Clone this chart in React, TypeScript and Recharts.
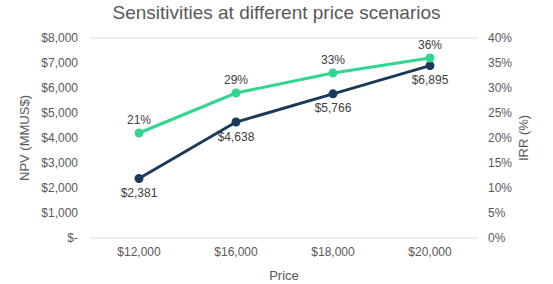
import { CartesianGrid, LabelList, Line, LineChart, XAxis, YAxis } from "recharts";

const prices = ["$12,000", "$16,000", "$18,000", "$20,000"];
const npv = [2381, 4638, 5766, 6895];
const irr = [21, 29, 33, 36];
const npvTicks = [0, 1000, 2000, 3000, 4000, 5000, 6000, 7000, 8000];
const irrTicks = [0, 5, 10, 15, 20, 25, 30, 35, 40];

const NAVY = "#1b3a5a";
const GREEN = "#33d68f";
const TEXT = "#595959";
const FONT = "'Liberation Sans', Arial, sans-serif";

const data = prices.map((p, i) => ({ price: p, npv: npv[i], irr: irr[i] }));

const money = (v: number) => (v === 0 ? "$-" : "$" + v.toLocaleString("en-US"));

export default function App() {
  return (
    <div style={{ position: "fixed", left: 0, top: 0, width: 553, height: 284, background: "#fff", fontFamily: FONT }}>
      <div
        style={{
          position: "absolute",
          top: 2,
          left: 0,
          width: 553,
          textAlign: "center",
          fontSize: 19,
          color: TEXT,
        }}
      >
        Sensitivities at different price scenarios
      </div>
      <LineChart
        width={553}
        height={284}
        data={data}
        margin={{ top: 38, right: 0, bottom: 16, left: 0 }}
        style={{ fontFamily: FONT }}
      >
        <CartesianGrid vertical={false} stroke="#d9d9d9" />
        <XAxis
          dataKey="price"
          axisLine={false}
          tickLine={false}
          tickSize={0}
          tickMargin={9}
          height={30}
          padding={{ left: 49, right: 48 }}
          tick={{ fill: TEXT, fontSize: 12 }}
          label={{ value: "Price", position: "insideBottom", offset: -12, fill: TEXT, fontSize: 13 }}
        />
        <YAxis
          yAxisId="l"
          width={90}
          domain={[0, 8000]}
          ticks={npvTicks}
          tickFormatter={money}
          axisLine={false}
          tickLine={false}
          tickSize={0}
          tickMargin={12}
          tick={{ fill: TEXT, fontSize: 12 }}
          label={{ value: "NPV (MMUS$)", angle: -90, position: "insideLeft", offset: 24, fill: TEXT, fontSize: 13, style: { textAnchor: "middle" } }}
        />
        <YAxis
          yAxisId="r"
          orientation="right"
          width={75}
          domain={[0, 40]}
          ticks={irrTicks}
          tickFormatter={(v: number) => v + "%"}
          axisLine={false}
          tickLine={false}
          tickSize={0}
          tickMargin={10}
          tick={{ fill: TEXT, fontSize: 12 }}
          label={{ value: "IRR (%)", angle: -90, position: "insideRight", offset: 30, fill: TEXT, fontSize: 13, style: { textAnchor: "middle" } }}
        />
        <Line
          yAxisId="l"
          dataKey="npv"
          stroke={NAVY}
          strokeWidth={3}
          dot={{ r: 3, fill: NAVY, stroke: NAVY }}
          isAnimationActive={false}
        >
          <LabelList dataKey="npv" position="bottom" offset={10} formatter={(v: any) => money(Number(v))} fill="#404040" fontSize={12} />
        </Line>
        <Line
          yAxisId="r"
          dataKey="irr"
          stroke={GREEN}
          strokeWidth={3}
          dot={{ r: 3, fill: GREEN, stroke: GREEN }}
          isAnimationActive={false}
        >
          <LabelList dataKey="irr" position="top" offset={9} formatter={(v: any) => v + "%"} fill="#404040" fontSize={12} />
        </Line>
      </LineChart>
    </div>
  );
}
